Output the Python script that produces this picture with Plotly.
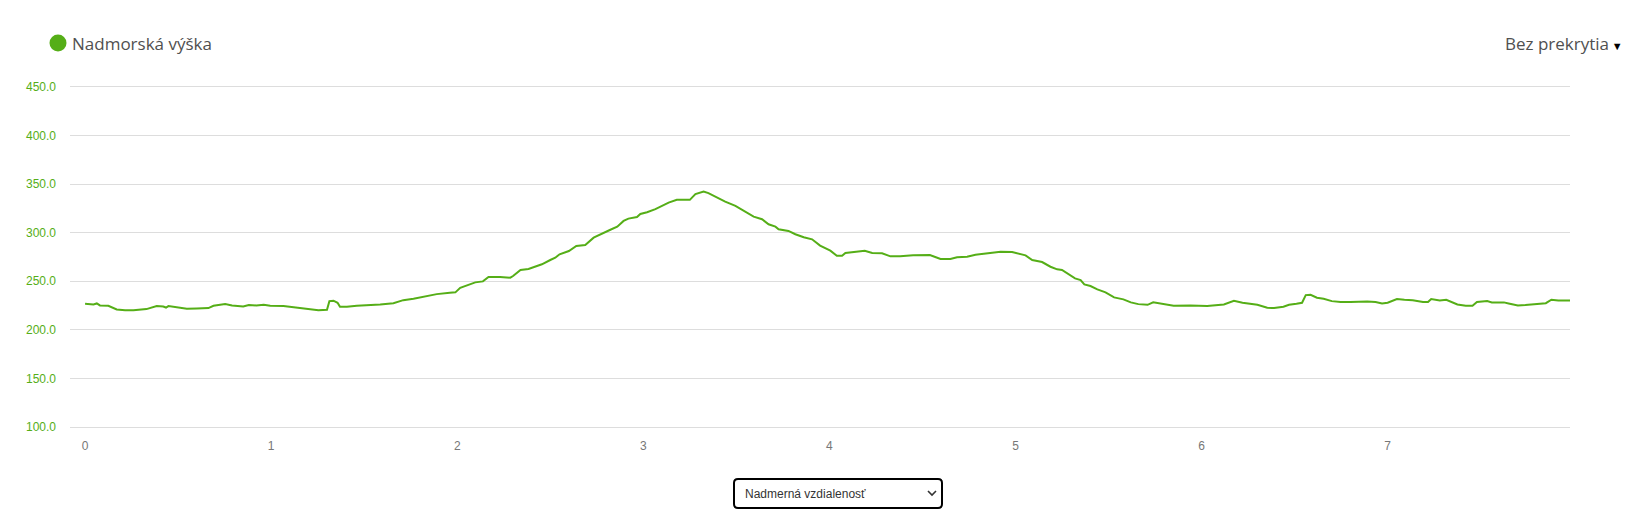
"""
Elevation profile — Nadmorská výška vs. distance (km).
"""

import plotly.graph_objects as go

# distance along the route (km) and elevation (m)
distance_km = [
    0.0, 0.045, 0.063, 0.08, 0.125, 0.143, 0.17, 0.215, 0.26, 0.33, 0.358, 0.385,
    0.42, 0.435, 0.448, 0.466, 0.50, 0.547, 0.60, 0.663, 0.69, 0.726, 0.753, 0.79,
    0.833, 0.85, 0.88, 0.92, 0.96, 0.995, 1.066, 1.10, 1.147, 1.21, 1.254, 1.30,
    1.313, 1.335, 1.357, 1.37, 1.407, 1.46, 1.53, 1.586, 1.657, 1.71, 1.765, 1.82,
    1.89, 1.96, 1.99, 2.016, 2.07, 2.097, 2.138, 2.168, 2.23, 2.285, 2.30, 2.34,
    2.383, 2.43, 2.455, 2.50, 2.527, 2.55, 2.60, 2.64, 2.688, 2.733, 2.778, 2.82,
    2.86, 2.894, 2.92, 2.966, 2.984, 3.02, 3.065, 3.10, 3.136, 3.18, 3.25, 3.28,
    3.324, 3.35, 3.396, 3.44, 3.495, 3.557, 3.593, 3.638, 3.673, 3.71, 3.727, 3.78,
    3.817, 3.862, 3.907, 3.95, 4.005, 4.04, 4.068, 4.086, 4.12, 4.167, 4.19, 4.23,
    4.283, 4.328, 4.38, 4.45, 4.54, 4.597, 4.65, 4.686, 4.74, 4.785, 4.848, 4.92,
    4.982, 5.018, 5.054, 5.09, 5.143, 5.188, 5.224, 5.25, 5.286, 5.32, 5.35, 5.37,
    5.403, 5.44, 5.484, 5.53, 5.58, 5.62, 5.66, 5.71, 5.74, 5.78, 5.85, 5.94, 6.03,
    6.12, 6.147, 6.174, 6.22, 6.263, 6.30, 6.353, 6.39, 6.44, 6.47, 6.51, 6.54,
    6.56, 6.586, 6.62, 6.656, 6.70, 6.747, 6.80, 6.89, 6.935, 6.97, 7.0, 7.05, 7.09,
    7.135, 7.19, 7.217, 7.234, 7.28, 7.315, 7.34, 7.375, 7.42, 7.456, 7.48, 7.535,
    7.56, 7.625, 7.65, 7.70, 7.74, 7.80, 7.85, 7.88, 7.917, 7.98,
]
elevation_m = [
    226.8, 226.2, 227.2, 225.2, 224.8, 223.1, 221.0, 220.3, 220.3, 221.4, 222.7, 224.5,
    224.0, 223.0, 224.5, 224.0, 222.4, 221.7, 222.0, 222.4, 224.8, 225.5, 226.5, 225.2,
    223.8, 224.0, 225.5, 225.2, 225.8, 224.8, 224.5, 223.8, 222.4, 221.7, 220.3, 220.6,
    229.6, 230.0, 227.9, 223.8, 223.8, 224.8, 225.2, 226.2, 227.5, 230.6, 232.0, 234.0,
    236.8, 238.2, 238.6, 243.3, 246.5, 248.9, 249.9, 254.4, 254.4, 253.7, 255.4, 261.6,
    262.6, 266.0, 267.5, 271.9, 274.3, 277.8, 281.2, 286.3, 287.4, 294.9, 299.4, 302.8,
    306.2, 312.1, 314.5, 316.2, 319.3, 321.1, 324.2, 327.9, 331.0, 333.8, 333.8, 339.7,
    342.3, 340.7, 336.2, 332.0, 327.6, 321.1, 316.6, 313.9, 308.7, 306.2, 303.6, 301.8,
    298.4, 295.3, 293.2, 286.7, 281.5, 276.3, 276.3, 279.1, 279.8, 281.5, 281.5, 279.1,
    278.8, 275.7, 275.7, 276.7, 277.1, 272.9, 272.9, 274.7, 275.3, 277.4, 278.8, 280.5,
    280.2, 278.1, 276.7, 271.9, 269.8, 265.0, 262.3, 261.6, 257.5, 253.0, 251.3, 246.8,
    245.1, 241.7, 238.6, 233.4, 231.4, 228.3, 226.5, 225.8, 228.3, 227.2, 224.8, 225.2, 224.5,
    226.2, 227.9, 229.9, 227.9, 226.5, 225.8, 222.7, 222.4, 223.8, 225.8, 226.8, 227.9,
    235.8, 236.1, 233.1, 232.0, 229.6, 228.6, 228.6, 229.3, 228.6, 227.2, 227.9, 231.7, 231.0,
    230.6, 228.6, 228.6, 231.7, 230.3, 231.0, 228.9, 226.2, 224.8, 224.8, 228.6, 229.6,
    228.3, 228.3, 227.2, 225.2, 225.5, 226.8, 227.5, 231.0, 230.3, 230.3,
]

x_ticks = [0, 1, 2, 3, 4, 5, 6, 7]
y_ticks = [100, 150, 200, 250, 300, 350, 400, 450]

GREEN = "#55ae17"
W, H = 1629, 518
ML, MR, MT, MB = 70, 59, 85, 89
PW, PH = W - ML - MR, H - MT - MB


def px(x):
    return (x - ML) / PW


def py(y):
    return (H - MB - y) / PH


fig = go.Figure(
    go.Scatter(
        x=distance_km,
        y=elevation_m,
        mode="lines",
        name="Nadmorská výška",
        line=dict(color=GREEN, width=2),
        hovertemplate="%{x:.2f} km<br>%{y:.1f} m<extra></extra>",
    )
)

# legend item (circle + label) and the overlay selector, top row
fig.add_shape(
    type="circle", xref="paper", yref="paper",
    x0=px(49.5), x1=px(66.5), y0=py(51.5), y1=py(34.5),
    fillcolor=GREEN, line=dict(width=0),
)
fig.add_annotation(
    text="Nadmorská výška", xref="paper", yref="paper",
    x=px(70), y=py(43), xanchor="left", yanchor="middle", showarrow=False,
    font=dict(family="Open Sans", size=17, color="#505050"),
)
fig.add_annotation(
    text="Bez prekrytia<span style='font-size:11px;color:#000'> ▼</span>",
    xref="paper", yref="paper",
    x=px(1625), y=py(43), xanchor="right", yanchor="middle", showarrow=False,
    font=dict(family="Open Sans", size=17, color="#505050"),
)

# select box under the chart
x0, x1, y0, y1, r = 734, 942, 479, 508, 4
fig.add_shape(
    type="path", xref="paper", yref="paper",
    path=(
        f"M {px(x0 + r)},{py(y0)} L {px(x1 - r)},{py(y0)} "
        f"Q {px(x1)},{py(y0)} {px(x1)},{py(y0 + r)} L {px(x1)},{py(y1 - r)} "
        f"Q {px(x1)},{py(y1)} {px(x1 - r)},{py(y1)} L {px(x0 + r)},{py(y1)} "
        f"Q {px(x0)},{py(y1)} {px(x0)},{py(y1 - r)} L {px(x0)},{py(y0 + r)} "
        f"Q {px(x0)},{py(y0)} {px(x0 + r)},{py(y0)} Z"
    ),
    line=dict(color="#000", width=2), fillcolor="white",
)
fig.add_shape(
    type="path", xref="paper", yref="paper",
    path=f"M {px(928)},{py(491)} L {px(932)},{py(495)} L {px(936)},{py(491)}",
    line=dict(color="#333", width=1.6),
)
fig.add_annotation(
    text="Nadmerná vzdialenosť", xref="paper", yref="paper",
    x=px(743), y=py(493.5), xanchor="left", yanchor="middle", showarrow=False,
    font=dict(family="Liberation Sans, Arial", size=12, color="#333"),
)

fig.update_layout(
    width=W, height=H,
    margin=dict(l=ML, r=MR, t=MT, b=MB),
    plot_bgcolor="white",
    paper_bgcolor="white",
    showlegend=False,
    xaxis=dict(
        range=[-0.081, 7.98],
        tickvals=x_ticks,
        showgrid=False, zeroline=False, showline=False,
        ticks="", ticklabelstandoff=8,
        tickfont=dict(family="Liberation Sans, Arial", size=12, color="#777"),
    ),
    yaxis=dict(
        # padded past 100/450 so plotly keeps the edge gridlines
        range=[98, 452],
        tickvals=y_ticks,
        tickformat=".1f",
        showgrid=True, gridcolor="#dddddd", gridwidth=1,
        zeroline=False, showline=False,
        ticks="", ticklabelstandoff=13,
        tickfont=dict(family="Liberation Sans, Arial", size=12, color=GREEN),
    ),
)

# page body has an 8px default margin; drop it so the figure sits at 0,0
fig.write_html(
    "out.html",
    config={"displayModeBar": False},
    post_script="document.body.style.margin='0';",
)
